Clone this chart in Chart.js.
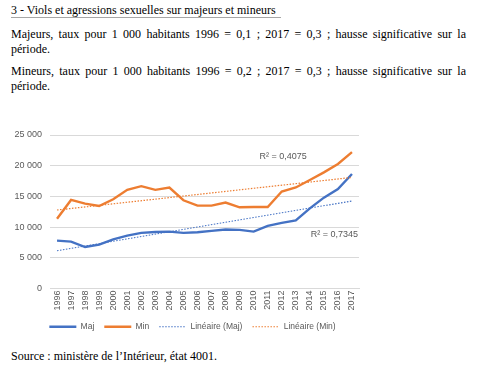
<!DOCTYPE html>
<html lang="fr">
<head>
<meta charset="utf-8">
<script src="https://cdn.jsdelivr.net/npm/chart.js@4/dist/chart.umd.min.js"></script>
<style>
  body { margin: 0; background: #fff; width: 494px; height: 370px; overflow: hidden; position: relative; }
  .txt { position: absolute; left: 11px; font-family: "Liberation Serif", "Times New Roman", serif; font-size: 12px; line-height: 15px; color: #000; }
  .title { top: 3px; }
  .title span { border-bottom: 1px solid #a6a6a6; padding-right: 5px; }
  .para { width: 455px; text-align: justify; }
  #chartBox { position: absolute; left: 10px; top: 120px; width: 360px; height: 225px; }
</style>
</head>
<body>
<div class="txt title"><span>3 - Viols et agressions sexuelles sur majeurs et mineurs</span></div>
<div class="txt para" style="top:27px">Majeurs, taux pour 1&nbsp;000 habitants 1996 = 0,1 ; 2017 = 0,3 ; hausse significative sur la période.</div>
<div class="txt para" style="top:64px">Mineurs, taux pour 1&nbsp;000 habitants 1996 = 0,2 ; 2017 = 0,3 ; hausse significative sur la période.</div>
<div id="chartBox"><canvas id="viewsChart"></canvas></div>
<div class="txt" style="top:349px">Source : ministère de l’Intérieur, état 4001.</div>

<script>
// Data
const years = ['1996', '1997', '1998', '1999', '2000', '2001', '2002', '2003', '2004', '2005', '2006',
    '2007', '2008', '2009', '2010', '2011', '2012', '2013', '2014', '2015', '2016', '2017'];
const majValues = [7790, 7630, 6750, 7130, 8010, 8610, 9050, 9210, 9260, 9050, 9160,
    9380, 9600, 9540, 9270, 10200, 10690, 11080, 13050, 14800, 16180, 18650];
const minValues = [11350, 14420, 13820, 13440, 14540, 16070, 16670, 16070, 16450, 14370, 13490,
    13490, 13990, 13220, 13280, 13270, 15790, 16450, 17660, 18910, 20290, 22200];
// Trend lines: start (1996) and end (2017) values
const majTrend = [6150, 14260];
const minTrend = [12780, 18090];
const yTicks = [0, 5000, 10000, 15000, 20000, 25000];
const r2Labels = ['R² = 0,4075', 'R² = 0,7345'];

const blue = '#4472c4';
const orange = '#ed7d31';
const grey = '#595959';
const axisFont = { family: '"Liberation Sans", Arial, sans-serif', size: 9 };

function trendData(ends) {
    const arr = years.map(() => null);
    arr[0] = ends[0];
    arr[arr.length - 1] = ends[1];
    return arr;
}

function fmt(v) {
    return String(v).replace(/\B(?=(\d{3})+(?!\d))/g, ' ');
}

// R² annotations, placed with the chart scales
const r2Plugin = {
    id: 'r2Text',
    afterDatasetsDraw(chart) {
        const { ctx, scales } = chart;
        ctx.save();
        ctx.font = '9px "Liberation Sans", Arial, sans-serif';
        ctx.fillStyle = grey;
        ctx.textAlign = 'right';
        ctx.textBaseline = 'middle';
        ctx.fillText(r2Labels[0], scales.x.getPixelForValue(16) + 25, scales.y.getPixelForValue(21500));
        ctx.fillText(r2Labels[1], scales.x.getPixelForValue(21) + 6, scales.y.getPixelForValue(8800));
        ctx.restore();
    }
};

// legend sits a bit right of the canvas centre in the original
const legendShift = {
    id: 'legendShift',
    afterLayout(chart) {
        chart.legend.left += 8;
        chart.legend.right += 8;
    }
};

const ctx = document.getElementById('viewsChart');
new Chart(ctx, {
    type: 'line',
    data: {
        labels: years,
        datasets: [
            { label: 'Maj', data: majValues, borderColor: blue, backgroundColor: blue, borderWidth: 2.4, order: 2 },
            { label: 'Min', data: minValues, borderColor: orange, backgroundColor: orange, borderWidth: 2.4, order: 3 },
            { label: 'Linéaire (Maj)', data: trendData(majTrend), borderColor: blue, backgroundColor: blue,
              borderWidth: 1.2, borderDash: [1.5, 1.5], spanGaps: true, order: 0 },
            { label: 'Linéaire (Min)', data: trendData(minTrend), borderColor: orange, backgroundColor: orange,
              borderWidth: 1.2, borderDash: [1.5, 1.5], spanGaps: true, order: 1 },
        ],
    },
    options: {
        responsive: true,
        maintainAspectRatio: false,
        animation: false,
        events: [],
        elements: { point: { radius: 0 }, line: { tension: 0 } },
        layout: { padding: { top: 15, right: 11, bottom: 4, left: 0 } },
        scales: {
            x: {
                offset: true,
                grid: { display: false, drawTicks: false },
                border: { color: '#d9d9d9', width: 1 },
                ticks: { color: grey, font: axisFont, minRotation: 90, maxRotation: 90, autoSkip: false, padding: 2 },
            },
            y: {
                min: 0, max: 25000,
                afterFit(scale) { scale.width = 40; },
                afterBuildTicks(scale) { scale.ticks = yTicks.map(v => ({ value: v })); },
                grid: { color: '#d9d9d9', lineWidth: 1, drawTicks: false },
                border: { display: false },
                ticks: { color: grey, font: axisFont, padding: 8, callback: v => fmt(v) },
            },
        },
        plugins: {
            tooltip: { enabled: false },
            legend: {
                position: 'bottom',
                labels: {
                    color: grey,
                    font: { family: '"Liberation Sans", Arial, sans-serif', size: 8.5 },
                    usePointStyle: true,
                    pointStyle: 'line',
                    pointStyleWidth: 27,
                    boxWidth: 27,
                    boxHeight: 8,
                    padding: 10,
                    sort: (a, b) => a.datasetIndex - b.datasetIndex,
                    generateLabels(chart) {
                        const items = Chart.defaults.plugins.legend.labels.generateLabels(chart);
                        return items.map(item => {
                            const ds = chart.data.datasets[item.datasetIndex];
                            item.strokeStyle = ds.borderColor;
                            item.lineWidth = ds.borderWidth;
                            item.lineDash = ds.borderDash || [];
                            item.pointStyle = 'line';
                            return item;
                        });
                    },
                },
            },
        },
    },
    plugins: [r2Plugin, legendShift],
});
</script>
</body>
</html>
